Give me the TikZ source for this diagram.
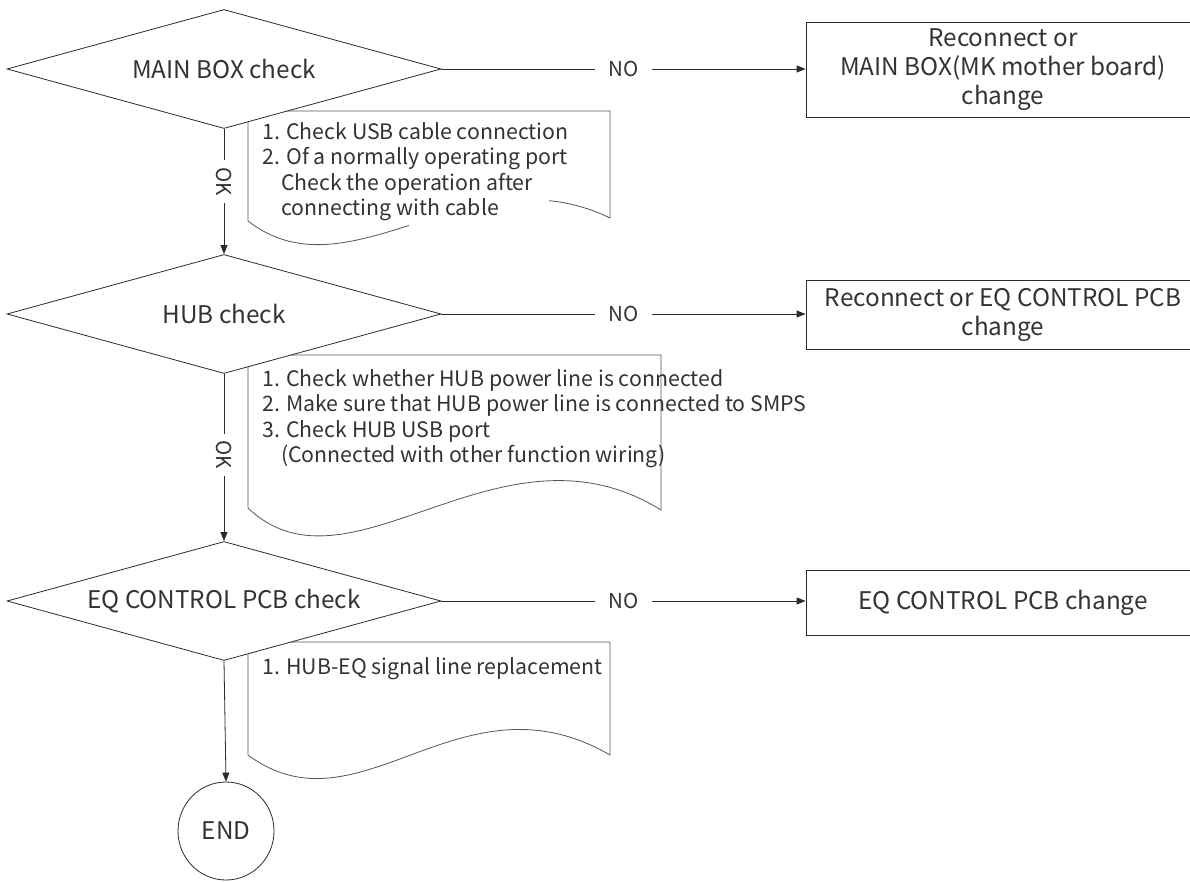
\documentclass[tikz,border=0pt]{standalone}
\usepackage{fontspec}
\setmainfont{Noto Sans CJK KR}
\usetikzlibrary{shapes.geometric,arrows.meta}
\definecolor{ink}{HTML}{2B2B2B}
\definecolor{txt}{HTML}{333333}
\definecolor{memoink}{HTML}{555555}
\begin{document}
\begin{tikzpicture}[x=1pt,y=-1pt,
  every node/.style={text=txt, font=\fontsize{24.3}{29}\selectfont},
  decision/.style={diamond, draw=ink, fill=white, line width=0.8pt,
    minimum width=434pt, minimum height=119pt, aspect=3.65, inner sep=0pt},
  resultbox/.style={rectangle, draw=ink, fill=white, line width=0.8pt,
    minimum width=394pt, align=center, inner sep=0pt},
  endcircle/.style={ellipse, draw=ink, line width=0.8pt,
    minimum width=96pt, minimum height=98pt, inner sep=0pt},
  flow/.style={draw=ink, line width=0.8pt, -{Triangle[length=9pt,width=7pt]}},
  oklbl/.style={fill=white, rotate=-90, inner xsep=7pt, inner ysep=2pt,
    font=\fontsize{20.5}{24}\selectfont},
  nolbl/.style={fill=white, inner xsep=13pt, inner ysep=2pt,
    font=\fontsize{20.5}{24}\selectfont},
  memo/.style={draw=memoink, line width=0.8pt, line join=miter},
  memoline/.style={anchor=base west, inner sep=0pt,
    font=\fontsize{21.3}{25.5}\selectfont}
]
\clip (0,0) rectangle (1190,882);
\fill[white] (0,0) rectangle (1190,882);

% ---- memo (document) shapes, behind the decisions ----
\draw[memo] (248,221) -- (248,111) -- (610,111) -- (610,218)
  .. controls (470,150) and (350,300) .. (248,221) -- cycle;
\fill[white] (409,190) rectangle (549,236);
\draw[memo] (248,508) -- (248,355) -- (661,355) -- (661,510)
  .. controls (500,410) and (350,605) .. (248,508) -- cycle;
\draw[memo] (248,755) -- (248,642) -- (610,642) -- (610,755)
  .. controls (460,668) and (360,838) .. (248,755) -- cycle;

% ---- memo texts ----
\node[memoline] (m1a) at (262,139.5) {1. Check USB cable connection};
\node[memoline] (m1b) at (262,165) {2. Of a normally operating port};
\node[memoline] (m1c) at (281,190.5) {Check the operation after};
\node[memoline] (m1d) at (281,216) {connecting with cable};

\node[memoline] (m2a) at (262,386) {1. Check whether HUB power line is connected};
\node[memoline] (m2b) at (262,411.5) {2. Make sure that HUB power line is connected to SMPS};
\node[memoline] (m2c) at (262,437) {3. Check HUB USB port};
\node[memoline] (m2d) at (281,462.5) {(Connected with other function wiring)};

\node[memoline] (m3a) at (262,674.5) {1. HUB-EQ signal line replacement};

% ---- decisions ----
\node[decision] (d1) at (224,69) {MAIN BOX check};
\node[decision] (d2) at (224,314) {HUB check};
\node[decision] (d3) at (224,601) {EQ CONTROL PCB check};

% ---- results ----
\node[resultbox, minimum height=95pt] (b1) at (1003,69.5)
  {Reconnect or\\MAIN BOX(MK mother board)\\change};
\node[resultbox, minimum height=69pt] (b2) at (1003,314.5)
  {Reconnect or EQ CONTROL PCB\\change};
\node[resultbox, minimum height=65pt] (b3) at (1003,602.5)
  {EQ CONTROL PCB change};

\node[endcircle] (e) at (226,831) {END};

% ---- connectors ----
\draw[flow] (d1.south) -- node[oklbl, pos=0.42] {OK} (d2.north);
\draw[flow] (d2.south) -- node[oklbl, pos=0.485] {OK} (d3.north);
\draw[flow] (d3.south) -- (e.north);

\draw[flow] (d1.east) -- node[nolbl] {NO} (d1.east -| b1.west);
\draw[flow] (d2.east) -- node[nolbl] {NO} (d2.east -| b2.west);
\draw[flow] (d3.east) -- node[nolbl] {NO} (d3.east -| b3.west);
\end{tikzpicture}
\end{document}
